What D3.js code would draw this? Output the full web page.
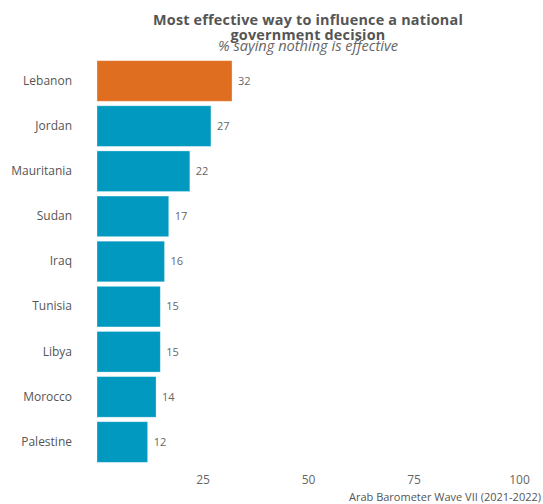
<!DOCTYPE html>
<html><head><meta charset="utf-8">
<script src="https://cdn.jsdelivr.net/npm/d3@7"></script>
<style>
body{margin:0;background:#fff;}
text{font-family:"Open Sans",sans-serif;}
</style></head>
<body><svg id="c" width="543" height="504"></svg>
<script>
const countries = ["Lebanon","Jordan","Mauritania","Sudan","Iraq","Tunisia","Libya","Morocco","Palestine"];
const values = [32,27,22,17,16,15,15,14,12];
const highlight = ["Lebanon"];
const xTicks = [25,50,75,100];
const titleLines = ["Most effective way to influence a national","government decision"];
const subtitle = "% saying nothing is effective";
const caption = "Arab Barometer Wave VII (2021-2022)";

const svg = d3.select("#c");
const x = d3.scaleLinear().domain([0,100]).range([97,519]);
const y = d3.scaleBand().domain(countries).range([58.4,464.6]).paddingInner(0.1).paddingOuter(0.05);
const data = countries.map((c,i)=>({c,v:values[i]}));

svg.append("g").selectAll("rect").data(data).join("rect")
  .attr("x",x(0)).attr("y",d=>y(d.c)).attr("width",d=>x(d.v)-x(0)).attr("height",y.bandwidth())
  .attr("fill",d=>highlight.includes(d.c)?"#DF6E21":"#0199BF")
  .attr("stroke","#fff").attr("stroke-opacity",0.4).attr("stroke-width",0.8);

svg.append("g").selectAll("text").data(data).join("text")
  .attr("x",d=>x(d.v)+6).attr("y",d=>y(d.c)+y.bandwidth()/2).attr("dy","0.35em")
  .attr("font-size",11).attr("fill","#666").text(d=>d.v);

const yAxis = svg.append("g").attr("transform","translate(97,0)").call(d3.axisLeft(y).tickSize(0).tickPadding(25));
yAxis.select(".domain").remove();
yAxis.selectAll("text").attr("font-size",12).attr("fill","#555").style("font-family","'Open Sans',sans-serif");

const xAxis = svg.append("g").attr("transform","translate(0,468)").call(d3.axisBottom(x).tickValues(xTicks).tickSize(0).tickPadding(7));
xAxis.select(".domain").remove();
xAxis.selectAll("text").attr("font-size",12).attr("fill","#666").style("font-family","'Open Sans',sans-serif");

const t = svg.append("text").attr("text-anchor","middle").attr("font-weight","bold").attr("font-size",14.4).attr("letter-spacing",0.2).attr("fill","#555");
titleLines.forEach((l,i)=>t.append("tspan").attr("x",308).attr("y",25.3+i*15).text(l));
svg.append("text").attr("x",308).attr("y",51).attr("text-anchor","middle").attr("font-style","italic").attr("font-size",14.6).attr("fill","#666").text(subtitle);
svg.append("text").attr("x",541).attr("y",501).attr("text-anchor","end").attr("font-size",11).attr("fill","#555").text(caption);
</script></body></html>
